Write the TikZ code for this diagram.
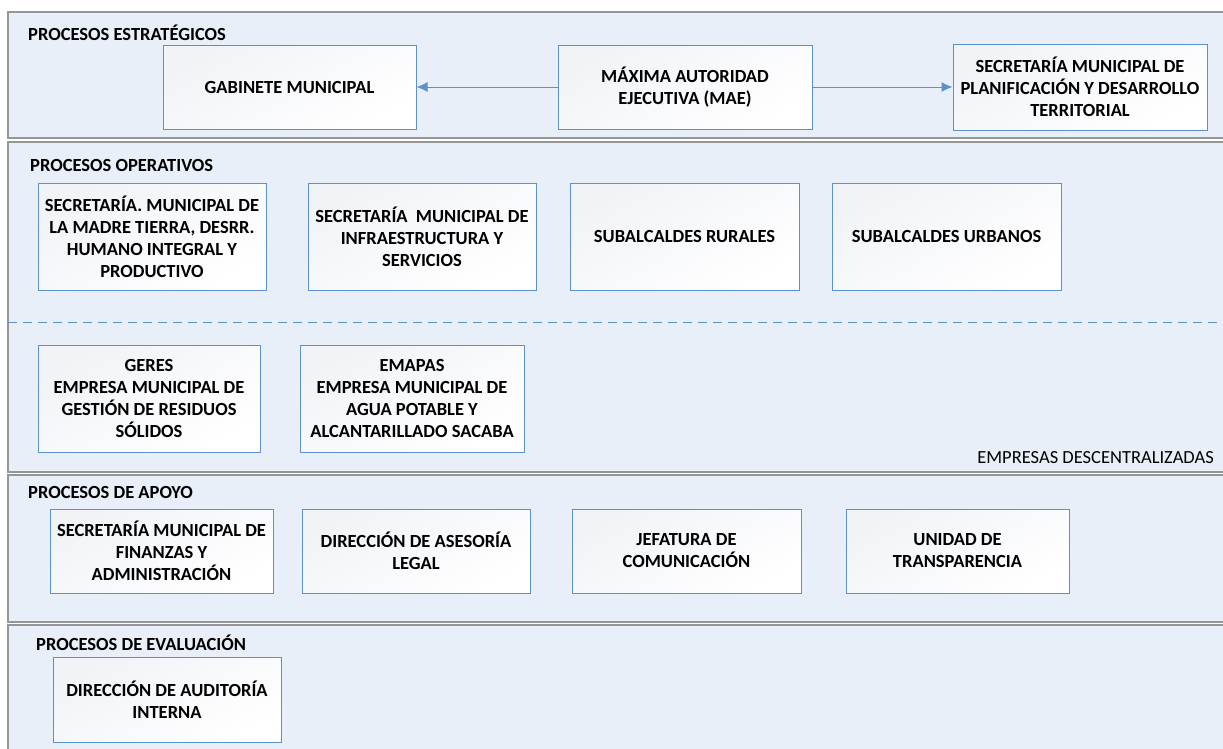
\documentclass[tikz,border=0pt]{standalone}
\usepackage{fontspec}
\setmainfont{Carlito}
\usepackage{tikz}
\usetikzlibrary{arrows.meta}
\usetikzlibrary{positioning}
\definecolor{panelblue}{RGB}{232,239,249}
\definecolor{boxblue}{RGB}{91,145,205}
\definecolor{boxtop}{RGB}{241,243,247}
\definecolor{panelgray}{RGB}{150,150,150}
\tikzset{panel/.style = {fill=panelblue, draw=panelgray, line width=1.3pt}}
\tikzset{unidad/.style = {draw=boxblue, line width=1pt, top color=boxtop, bottom color=white,
                          shading angle=30, align=center, inner sep=2pt,
                          font=\fontsize{18.5}{22}\selectfont\bfseries}}
\tikzset{titulo/.style = {anchor=west, inner sep=0, font=\fontsize{18.5}{22}\selectfont\bfseries}}
\tikzset{enlace/.style = {draw=boxblue, line width=1pt, -{Latex[length=11pt, width=10pt]}}}

\begin{document}
\begin{tikzpicture}[x=1pt, y=-1pt]
      \useasboundingbox (0, 0) rectangle (1223, 748);
      \fill [white] (0, 0) rectangle (1223, 748);
      \draw [panel] (8, 12) rectangle (1240, 138);
      \draw [panel] (8, 142) rectangle (1240, 472);
      \draw [panel] (8, 475) rectangle (1240, 622);
      \draw [panel] (8, 625) rectangle (1240, 760);
      \draw [boxblue, line width=1pt, dash pattern=on 9pt off 6pt] (8, 322) -- (1223, 322);
      \node [titulo] (estr) at (28, 33) {PROCESOS ESTRATÉGICOS};
      \node [titulo] (oper) at (30, 165) {PROCESOS OPERATIVOS};
      \node [titulo] (apoyo) at (28, 492) {PROCESOS DE APOYO};
      \node [titulo] (eval) at (36, 643) {PROCESOS DE EVALUACIÓN};
      \node [anchor=east, inner sep=0, font=\fontsize{18.5}{22}\selectfont] (desc) at (1214, 458) {EMPRESAS DESCENTRALIZADAS};
      \node [unidad, minimum width=253, minimum height=84] (gab) at (289.5, 87) {GABINETE MUNICIPAL};
      \node [unidad, minimum width=254, minimum height=84] (mae) at (685, 87) {MÁXIMA AUTORIDAD\\EJECUTIVA (MAE)};
      \node [unidad, minimum width=254, minimum height=86] (plan) at (1080, 87) {SECRETARÍA MUNICIPAL DE\\PLANIFICACIÓN Y DESARROLLO\\TERRITORIAL};
      \draw [enlace] (mae) -- (gab);
      \draw [enlace] (mae) -- (plan);
      \node [unidad, minimum width=228, minimum height=107] (madre) at (152, 236.5) {SECRETARÍA. MUNICIPAL DE\\LA MADRE TIERRA, DESRR.\\HUMANO INTEGRAL Y\\PRODUCTIVO};
      \node [unidad, minimum width=228, minimum height=107] (infra) at (422, 236.5) {SECRETARÍA \ MUNICIPAL DE\\INFRAESTRUCTURA Y\\SERVICIOS};
      \node [unidad, minimum width=229, minimum height=107] (rural) at (684.5, 236.5) {SUBALCALDES RURALES};
      \node [unidad, minimum width=229, minimum height=107] (urb) at (946.5, 236.5) {SUBALCALDES URBANOS};
      \node [unidad, minimum width=222, minimum height=107] (geres) at (149, 398.5) {GERES\\EMPRESA MUNICIPAL DE\\GESTIÓN DE RESIDUOS\\SÓLIDOS};
      \node [unidad, minimum width=224, minimum height=107] (emapas) at (412, 398.5) {EMAPAS\\EMPRESA MUNICIPAL DE\\AGUA POTABLE Y\\ALCANTARILLADO SACABA};
      \node [unidad, minimum width=223, minimum height=84] (fin) at (161.5, 551) {SECRETARÍA MUNICIPAL DE\\FINANZAS Y\\ADMINISTRACIÓN};
      \node [unidad, minimum width=228, minimum height=84] (legal) at (416, 551) {DIRECCIÓN DE ASESORÍA\\LEGAL};
      \node [unidad, minimum width=229, minimum height=84] (com) at (686.5, 551) {JEFATURA DE\\COMUNICACIÓN};
      \node [unidad, minimum width=223, minimum height=84] (transp) at (957.5, 551) {UNIDAD DE\\TRANSPARENCIA};
      \node [unidad, minimum width=228, minimum height=85] (audit) at (167, 699.5) {DIRECCIÓN DE AUDITORÍA\\INTERNA};
    \end{tikzpicture}
\end{document}
